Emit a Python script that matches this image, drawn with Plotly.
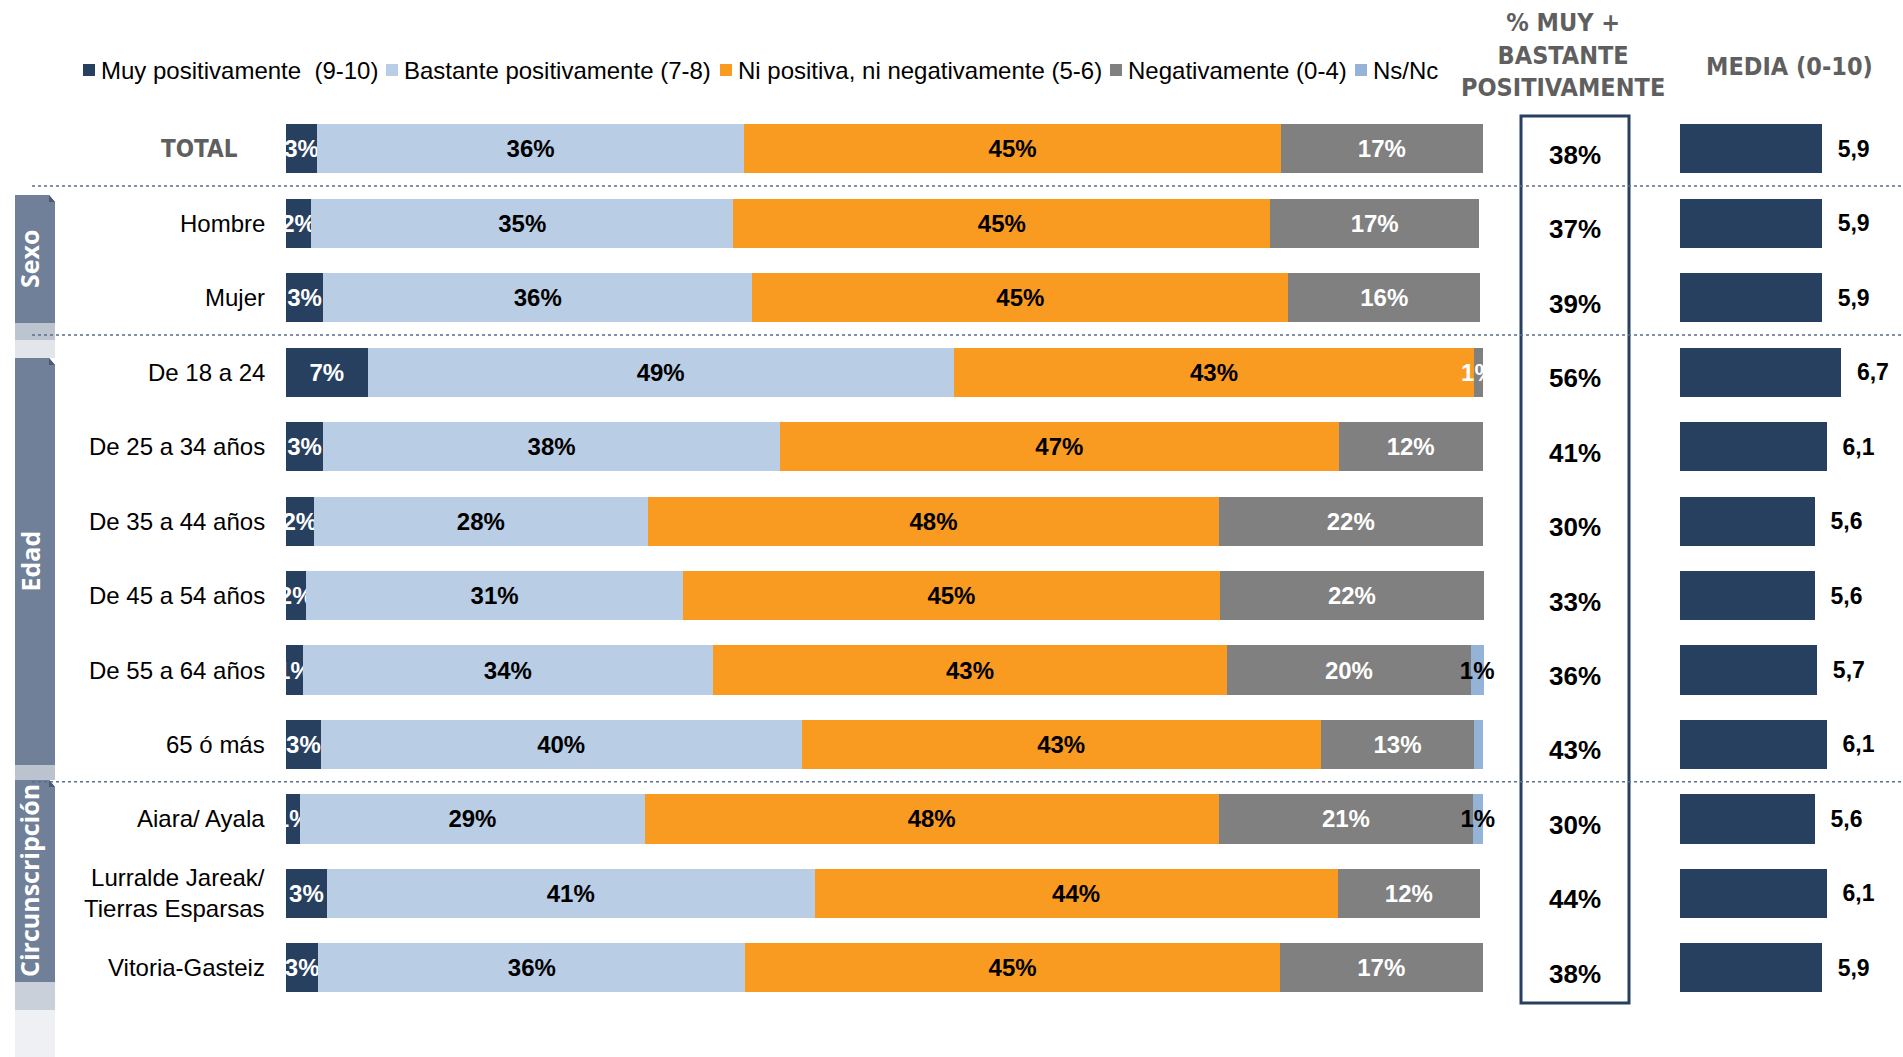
import plotly.graph_objects as go

W, H = 1903, 1057

rows = ["TOTAL", "Hombre", "Mujer", "De 18 a 24", "De 25 a 34 años", "De 35 a 44 años",
        "De 45 a 54 años", "De 55 a 64 años", "65 ó más", "Aiara/ Ayala",
        "Lurralde Jareak/<br>Tierras Esparsas", "Vitoria-Gasteiz"]

# segment widths and the rounded labels printed on them
muy = [2.6, 2.1, 3.1, 6.8, 3.1, 2.3, 1.7, 1.4, 2.9, 1.2, 3.4, 2.7]
bastante = [35.6, 35.2, 35.8, 48.9, 38.1, 27.9, 31.4, 34.2, 40.1, 28.7, 40.7, 35.6]
ni = [44.8, 44.8, 44.7, 43.4, 46.6, 47.6, 44.8, 42.9, 43.3, 47.9, 43.6, 44.6]
negativ = [16.8, 17.4, 16.0, 0.7, 12.0, 22.0, 22.0, 20.3, 12.8, 21.2, 11.9, 16.9]
nsnc = [0, 0, 0, 0, 0, 0, 0, 1.1, 0.7, 0.8, 0, 0]

muy_lbl = [3, 2, 3, 7, 3, 2, 2, 1, 3, 1, 3, 3]
bastante_lbl = [36, 35, 36, 49, 38, 28, 31, 34, 40, 29, 41, 36]
ni_lbl = [45, 45, 45, 43, 47, 48, 45, 43, 43, 48, 44, 45]
negativ_lbl = [17, 17, 16, 1, 12, 22, 22, 20, 13, 21, 12, 17]
nsnc_lbl = [None, None, None, None, None, None, None, 1, None, 1, None, None]

muy_bastante = [38, 37, 39, 56, 41, 30, 33, 36, 43, 30, 44, 38]
media = [5.9, 5.9, 5.9, 6.7, 6.1, 5.6, 5.6, 5.7, 6.1, 5.6, 6.1, 5.9]

legend_names = ["Muy positivamente  (9-10)", "Bastante positivamente (7-8)",
                "Ni positiva, ni negativamente (5-6)", "Negativamente (0-4)", "Ns/Nc"]
colors = ["#27405F", "#B9CDE5", "#F99B20", "#808080", "#95B3D7"]
text_colors = ["white", "black", "black", "white", "black"]

groups = ["Sexo", "Edad", "Circunscripción"]

SANS = "Liberation Sans, Arial, sans-serif"
NARROW = "Liberation Sans Narrow, Arial Narrow, DejaVu Sans Condensed, sans-serif"
BAND = "Open Sans, sans-serif"
NAVY = "#27405F"
GREYTXT = "#5F5F5F"


def fx(p):
    return p / W


def fy(p):
    return 1 - p / H


fig = go.Figure()
ypos = list(range(len(rows)))

series = [muy, bastante, ni, negativ, nsnc]
labels = [muy_lbl, bastante_lbl, ni_lbl, negativ_lbl, nsnc_lbl]
for name, vals, lbl, col, tcol in zip(legend_names, series, labels, colors, text_colors):
    fig.add_trace(go.Bar(
        y=ypos, x=vals, orientation="h", name=name,
        marker=dict(color=col, line=dict(width=0)), width=0.66,
        text=[f"{v}%" if v is not None else "" for v in lbl],
        textposition="inside", insidetextanchor="middle", textangle=0,
        constraintext="none", cliponaxis=False,
        textfont=dict(family=SANS, size=24, color=tcol, weight=700),
        showlegend=False, hoverinfo="skip", xaxis="x", yaxis="y",
    ))

fig.add_trace(go.Bar(
    y=ypos, x=media, orientation="h", name="Media",
    marker=dict(color=NAVY, line=dict(width=0)), width=0.66,
    texttemplate="\u00a0\u00a0%{x:.1f}", textposition="outside", textangle=0,
    constraintext="none", cliponaxis=False,
    textfont=dict(family=SANS, size=23, color="black", weight=700),
    showlegend=False, hoverinfo="skip", xaxis="x2", yaxis="y",
))

ann = []
shapes = []


def note(x, y, text, font, xanchor="center", yref="paper", **kw):
    ann.append(dict(x=x, xref="paper", y=y, yref=yref, text=text, showarrow=False,
                    xanchor=xanchor, yanchor="middle", font=font, **kw))


# row labels
for i, r in enumerate(rows):
    if r == "TOTAL":
        note(fx(240), i, "<b>TOTAL</b>", dict(family=NARROW, size=24, color=GREYTXT),
             xanchor="right", yref="y")
    else:
        note(fx(267), i, r, dict(family=SANS, size=24, color="black"),
             xanchor="right", yref="y", align="right")

# % muy + bastante column
for i, v in enumerate(muy_bastante):
    note(fx(1575), i, f"<b>{v}%</b>", dict(family=SANS, size=26, color="black"),
         yref="y", yshift=-6)
shapes.append(dict(type="rect", xref="paper", yref="paper",
                   x0=fx(1521), x1=fx(1629), y0=fy(1003), y1=fy(116),
                   line=dict(color=NAVY, width=3), fillcolor="rgba(0,0,0,0)"))

# headers
note(fx(1563), fy(55), "<b>% MUY +<br>BASTANTE<br>POSITIVAMENTE</b>",
     dict(family=NARROW, size=25, color=GREYTXT))
note(fx(1789), fy(67), "<b>MEDIA (0-10)</b>", dict(family=NARROW, size=25, color=GREYTXT))

# legend drawn by hand: small squares + labels
legend_x = [83, 386, 720, 1110, 1355]
for lx, name, col in zip(legend_x, legend_names, colors):
    shapes.append(dict(type="rect", xref="paper", yref="paper",
                       x0=fx(lx), x1=fx(lx + 12), y0=fy(76), y1=fy(64),
                       line=dict(width=0), fillcolor=col))
    note(fx(lx + 16), fy(70), name.replace("  ", "\u00a0 "),
         dict(family=SANS, size=24, color="black"), xanchor="left")

# dotted separators between groups
for yv in [0.5, 2.5, 8.5]:
    shapes.append(dict(type="line", xref="paper", yref="y", x0=fx(32), x1=1,
                       y0=yv, y1=yv, line=dict(color="#5B6E8C", width=1.5, dash="dot")))

# side bands with group names
band_col = "#6F8098"
bands = [(195, 323), (358, 765), (780, 982)]
for (t, b), g in zip(bands, groups):
    path = (f"M {fx(15)},{fy(t)} L {fx(49)},{fy(t)} L {fx(55)},{fy(t + 7)} "
            f"L {fx(55)},{fy(b)} L {fx(15)},{fy(b)} Z")
    shapes.append(dict(type="path", xref="paper", yref="paper", path=path,
                       fillcolor=band_col, line=dict(width=0), layer="below"))
    fold = f"M {fx(49)},{fy(t)} L {fx(55)},{fy(t + 7)} L {fx(49)},{fy(t + 7)} Z"
    shapes.append(dict(type="path", xref="paper", yref="paper", path=fold,
                       fillcolor="#4B5A70", line=dict(width=0), layer="below"))
    note(fx(29), fy((t + b) / 2), f"<b>{g}</b>",
         dict(family=BAND, size=25, color="white"), textangle=-90)
for t, b, c in [(323, 340, "#BCC4CF"), (340, 358, "#E2E6EB"),
                (765, 780, "#BAC3CE"), (982, 1010, "#C9D0D9"), (1010, 1057, "#EEF0F3")]:
    shapes.append(dict(type="rect", xref="paper", yref="paper",
                       x0=fx(15), x1=fx(55), y0=fy(b), y1=fy(t),
                       fillcolor=c, line=dict(width=0), layer="below"))

fig.update_layout(
    width=W, height=H,
    margin=dict(l=0, r=0, t=0, b=0),
    barmode="stack",
    separators=",.",
    paper_bgcolor="white", plot_bgcolor="white",
    xaxis=dict(domain=[fx(286), fx(1485)], range=[0, 100], visible=False, fixedrange=True),
    xaxis2=dict(domain=[fx(1680), 1], range=[0, (W - 1680) / 24.05], anchor="y",
                visible=False, fixedrange=True),
    yaxis=dict(range=[(H - 148.8) / 74.46, -148.8 / 74.46], visible=False, fixedrange=True),
    annotations=ann,
    shapes=shapes,
    showlegend=False,
)

fig.write_html("out.html", config={"displayModeBar": False},
               post_script="document.body.style.margin='0';document.body.style.overflow='hidden';")
